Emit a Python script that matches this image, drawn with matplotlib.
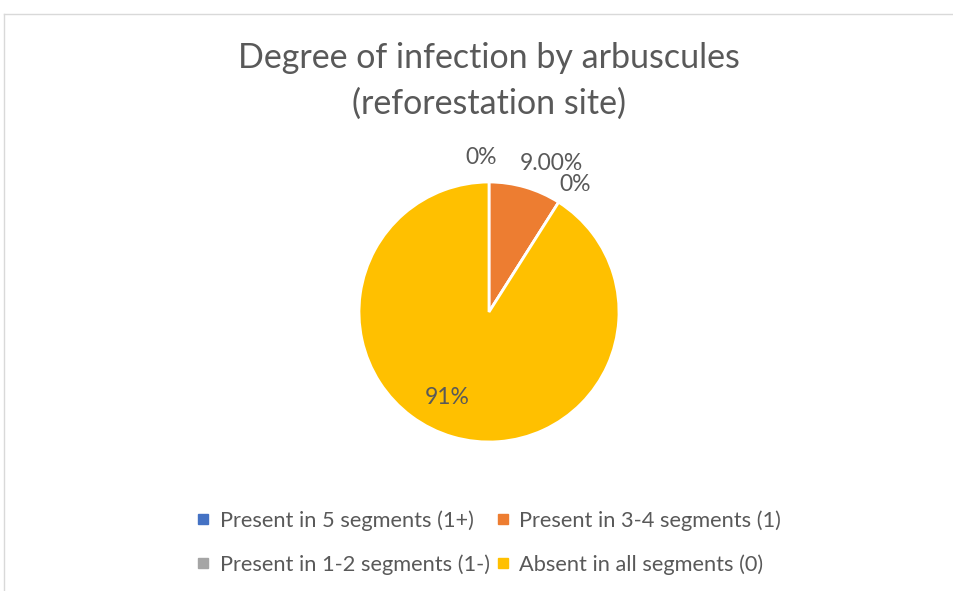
import numpy as np
import matplotlib.pyplot as plt
from matplotlib.lines import Line2D

# Data
categories = ['Present in 5 segments (1+)', 'Present in 3-4 segments (1)',
              'Present in 1-2 segments (1-)', 'Absent in all segments (0)']
values = [0, 9, 0, 91]
labels = ['0%', '9.00%', '0%', '91%']
colors = ['#4472C4', '#ED7D31', '#A5A5A5', '#FFC000']

# label positions relative to the pie centre (radius = 1)
label_pos = [(-0.06, 1.19), (0.48, 1.14), (0.66, 0.98), (-0.32, -0.66)]

plt.rcParams['font.family'] = ['Lato', 'DejaVu Sans']
txt = '#595959'

W, H = 954, 591
fig = plt.figure(figsize=(W / 100, H / 100), dpi=100)

# chart frame (top and left edges visible)
fig.add_artist(Line2D([4.5 / W, 4.5 / W], [0, 1 - 13.5 / H], color='#D9D9D9', lw=1))
fig.add_artist(Line2D([4.5 / W, 1], [1 - 13.5 / H, 1 - 13.5 / H], color='#D9D9D9', lw=1))

# pie axes: centre at (489, 312) px, radius 130 px
cx, cy, r = 489, 312, 130
half = 1.5 * r
ax = fig.add_axes([(cx - half) / W, (H - cy - half) / H, 2 * half / W, 2 * half / H])
ax.axis('off')

wedges, _ = ax.pie(values, colors=colors, startangle=90, counterclock=False,
                   radius=1, wedgeprops=dict(edgecolor='white', linewidth=2))
ax.set_xlim(-1.5, 1.5)
ax.set_ylim(-1.5, 1.5)

for lab, (x, y) in zip(labels, label_pos):
    ax.text(x, y, lab, ha='center', va='center', fontsize=16.5, color=txt)

fig.text(cx / W, 1 - 81 / H, 'Degree of infection by arbuscules\n(reforestation site)',
         ha='center', va='center', fontsize=24.5, color=txt, linespacing=1.5)

# legend filled row by row
order = [0, 2, 1, 3]
handles = [Line2D([], [], marker='s', linestyle='none', markersize=7,
                  markerfacecolor=colors[i], markeredgecolor=colors[i]) for i in order]
fig.legend(handles, [categories[i] for i in order], loc='center',
           bbox_to_anchor=(cx / W, 1 - 542.5 / H),
           ncol=2, frameon=False, fontsize=15.7, labelcolor=txt,
           handlelength=0.6, handletextpad=0.45, columnspacing=0.3, labelspacing=1.1)

fig.savefig('out.png', dpi=100)
